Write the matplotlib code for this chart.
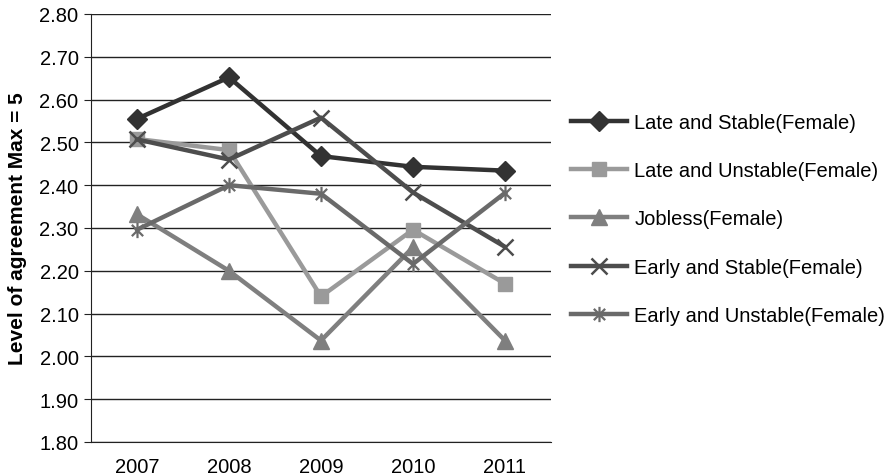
import matplotlib
matplotlib.use('Agg')
import matplotlib.pyplot as plt
from matplotlib.path import Path
import numpy as np

plt.rcParams['font.family'] = ['Liberation Sans', 'DejaVu Sans']

# Survey years and mean agreement per group
years = ['2007', '2008', '2009', '2010', '2011']
late_stable = [2.555, 2.652, 2.468, 2.443, 2.434]
late_unstable = [2.508, 2.482, 2.140, 2.296, 2.170]
jobless = [2.332, 2.200, 2.037, 2.255, 2.037]
early_stable = [2.507, 2.460, 2.558, 2.383, 2.256]
early_unstable = [2.296, 2.400, 2.380, 2.216, 2.382]

labels = ['Late and Stable(Female)', 'Late and Unstable(Female)', 'Jobless(Female)',
          'Early and Stable(Female)', 'Early and Unstable(Female)']
yticks = np.arange(1.80, 2.801, 0.10)

# x with a vertical bar, like the spreadsheet star marker
star = Path([(-1, -1), (1, 1), (-1, 1), (1, -1), (0, -1.35), (0, 1.35)],
            [Path.MOVETO, Path.LINETO, Path.MOVETO, Path.LINETO, Path.MOVETO, Path.LINETO])

fs = 14.5
fig = plt.figure(figsize=(8.96, 4.77), dpi=100)
ax = fig.add_axes([91 / 896, 1 - 443 / 477, 460 / 896, 428 / 477])

x = np.arange(len(years))
styles = [
    (late_stable, '#323232', 'D', 10, {}),
    (late_unstable, '#9a9a9a', 's', 10, {}),
    (jobless, '#7f7f7f', '^', 11.5, {}),
    (early_stable, '#4d4d4d', 'x', 11, {'markeredgewidth': 1.8}),
    (early_unstable, '#6a6a6a', star, 11, {'markeredgewidth': 1.6}),
]
for (vals, col, mk, ms, kw), lab in zip(styles, labels):
    ax.plot(x, vals, color=col, linewidth=3.2, marker=mk, markersize=ms,
            markerfacecolor=col, markeredgecolor=col, label=lab, **kw)

ax.set_xlim(-0.5, 4.5)
ax.set_ylim(1.80, 2.80)
ax.set_xticks(x)
ax.set_xticklabels(years)
ax.set_yticks(yticks)
ax.set_yticklabels(['%.2f' % v for v in yticks])
ax.yaxis.grid(True, color='#222222', linewidth=1.0)
ax.set_axisbelow(True)
for s in ['top', 'right']:
    ax.spines[s].set_visible(False)
ax.spines['left'].set_color('#222222')
ax.spines['bottom'].set_color('#222222')
ax.tick_params(axis='x', length=0, labelsize=fs, pad=11)
ax.tick_params(axis='y', length=5, direction='out', labelsize=fs, pad=4, color='#222222')
ax.set_ylabel('Level of agreement Max = 5', fontsize=15, fontweight='bold')
ax.yaxis.set_label_coords(-64 / 460, 0.5)

fig.legend(loc='upper left', bbox_to_anchor=(563 / 896, 1 - 106 / 477), frameon=False,
           fontsize=fs, labelspacing=1.45, handlelength=2.8, handletextpad=0.35,
           borderaxespad=0)

fig.savefig('out.png', dpi=100)
